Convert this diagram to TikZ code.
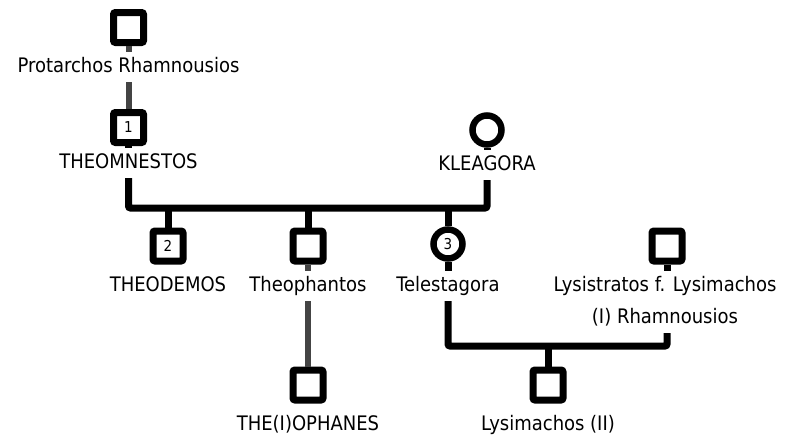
\documentclass[tikz,border=0pt]{standalone}
\usepackage{fontspec}
\setmainfont{DejaVu Sans Condensed}
\usetikzlibrary{positioning}
\definecolor{lineage}{HTML}{444444}

\begin{document}
\begin{tikzpicture}[x=1pt,y=-1pt,
    male/.style={draw,line width=7pt,rounded corners=2pt,minimum size=30pt,inner sep=0pt,fill=white,font=\fontsize{15}{15}\selectfont},
    female/.style={draw,circle,line width=6.5pt,minimum size=29pt,inner sep=0pt,fill=white,font=\fontsize{15}{15}\selectfont},
    nametag/.style={anchor=base,align=center,inner sep=5pt,text height=15pt,text depth=5pt,font=\fontsize{20}{32}\selectfont},
    marriage/.style={line width=7pt,rounded corners=2pt},
    descent/.style={lineage,line width=6pt}]
        \useasboundingbox (0,0) rectangle (792,439);

        \coordinate (union1) at (308,208);
        \coordinate (union2) at (548,346);

        % generation I and II
        \node[male]    (protarchos)      at (128.5,27.5) {};
        \node[nametag] (protarchosname)  at (128.5,72)   {Protarchos Rhamnousios};
        \node[male]    (theomnestos)     at (128.5,127.5) {1};
        \node[nametag] (theomnestosname) at (128.5,168)  {THEOMNESTOS};
        \node[female]  (kleagora)        at (487,130)    {};
        \node[nametag] (kleagoraname)    at (487,170)    {KLEAGORA};

        % children of Theomnestos and Kleagora
        \node[male]    (theodemos)       at (168,246)    {2};
        \node[nametag] (theodemosname)   at (168,291)    {THEODEMOS};
        \node[male]    (theophantos)     at (308,246)    {};
        \node[nametag] (theophantosname) at (308,291)    {Theophantos};
        \node[female]  (telestagora)     at (448,244)    {3};
        \node[nametag] (telestagoraname) at (448,291)    {Telestagora};
        \node[male]    (lysistratos)     at (667,246)    {};
        \node[nametag,text height=47pt] (lysistratosname) at (665,323) {Lysistratos f. Lysimachos\\(I) Rhamnousios};

        % grandchildren
        \node[male]    (theiophanes)     at (308,385)    {};
        \node[nametag] (theiophanesname) at (308,430)    {THE(I)OPHANES};
        \node[male]    (lysimachos)      at (548,385)    {};
        \node[nametag] (lysimachosname)  at (548,430)    {Lysimachos (II)};

        % single line descent
        \draw[descent] (protarchos) -- (protarchosname) (protarchosname) -- (theomnestos);
        \draw[descent] (theophantos) -- (theophantosname) (theophantosname) -- (theiophanes);

        % marriages
        \draw[marriage] (theomnestos) -- (theomnestosname);
        \draw[marriage] (kleagora) -- (kleagoraname);
        \draw[marriage] (theomnestosname) |- (union1) -| (kleagoraname);
        \draw[marriage] (theodemos) -- (theodemos |- union1);
        \draw[marriage] (theophantos) -- (theophantos |- union1);
        \draw[marriage] (telestagora) -- (telestagora |- union1);

        \draw[marriage] (telestagora) -- (telestagoraname);
        \draw[marriage] (lysistratos) -- (lysistratos |- lysistratosname.north);
        \draw[marriage] (telestagoraname) |- (union2) -| (lysistratos |- lysistratosname.south);
        \draw[marriage] (lysimachos) -- (lysimachos |- union2);
    \end{tikzpicture}
\end{document}
